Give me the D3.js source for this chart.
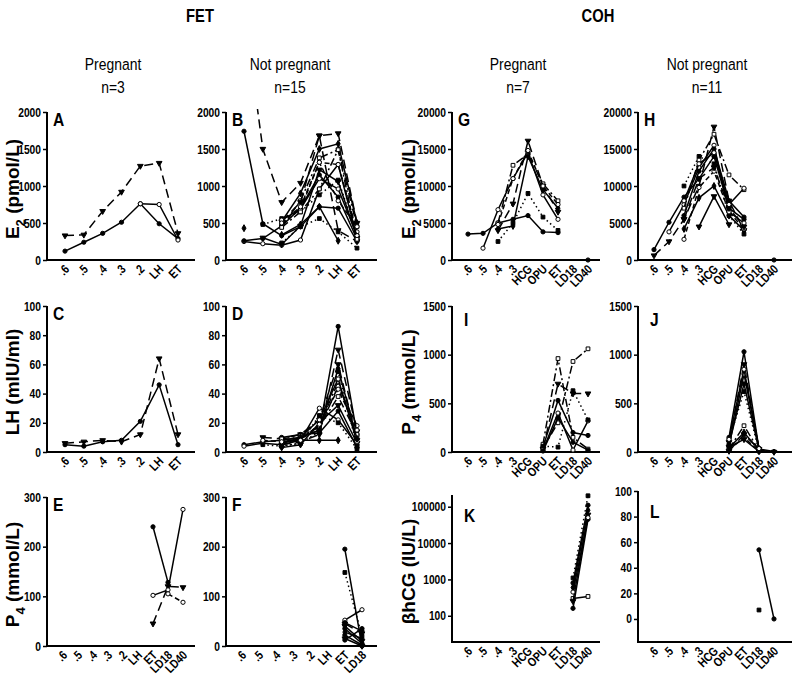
<!DOCTYPE html>
<html>
<head>
<meta charset="utf-8">
<script src="https://cdn.jsdelivr.net/npm/d3@7"></script>
<style>
  body { margin: 0; background: #fff; }
  svg { display: block; }
  text { font-family: "Liberation Sans", Arial, sans-serif; fill: #000; }
</style>
</head>
<body>
<svg id="chart" width="800" height="683"></svg>
<script>
const _ = null;
const NARROW = 0.82; // squeeze Liberation Sans to look like Arial Narrow

// categories (x axis)
const catsFET = [".6", ".5", ".4", ".3", ".2", "LH", "ET"];
const catsFET9 = [".6", ".5", ".4", ".3", ".2", "LH", "ET", "LD18", "LD40"];
const catsFET8 = [".6", ".5", ".4", ".3", ".2", "LH", "ET", "LD18"];
const catsCOH = [".6", ".5", ".4", ".3", "HCG", "OPU", "ET", "LD18", "LD40"];

// A : E2, FET pregnant
const e2FetPreg = [
  [120, 240, 360, 510, 760, 490, 290],
  [330, 340, 660, 920, 1270, 1310, 360],
  [_, _, _, _, 760, 750, 270]
];
// B : E2, FET not pregnant
const e2FetNot = [
  [1740, 490, 330, 450, 720, 700, 250],
  [3400, 1500, 780, 1040, 1680, 1710, 500],
  [250, 220, 200, 270, 960, 1290, 300],
  [_, 480, 560, 650, 880, 1080, 330],
  [_, _, 450, 800, 1380, 1490, 450],
  [430, _, 520, 900, 1500, 1570, 500],
  [_, _, 480, 690, 1320, 1290, 380],
  [_, 300, 210, 460, 1220, 1060, 300],
  [260, 290, 460, 700, 1150, 850, 280],
  [_, _, 520, 780, 1680, 400, 250],
  [_, _, 540, 690, 1100, 960, 330],
  [_, _, 230, 450, 560, 380, 160],
  [_, _, 440, 650, 960, 1490, 280],
  [_, _, 340, 480, 720, 260, _],
  [_, _, 500, 720, 1320, 800, 450]
];
// C : LH, FET pregnant
const lhFetPreg = [
  [5, 4, 7, 8, 21, 46, 5],
  [6, 7, 8, 7, 12, 64, 12]
];
// D : LH, FET not pregnant
const lhFetNot = [
  [5, 7, 8, 10, 15, 86, 12],
  [_, 10, 9, 12, 22, 60, 8],
  [4, 6, 5, 8, 30, 22, 5],
  [_, 5, 4, 6, 14, 55, 4],
  [_, _, 6, 9, 18, 48, 10],
  [_, _, 7, 8, 8, 8, _],
  [_, 8, 7, 9, 16, 45, 18],
  [_, _, 3, 5, 20, 32, 6],
  [_, _, 10, 12, 13, 28, 3],
  [_, _, 5, 7, 12, 70, 14],
  [_, _, 8, 10, 22, 50, 7],
  [_, _, 4, 6, 25, 20, 2],
  [_, _, 9, 11, 17, 38, 12],
  [_, _, 6, 10, 15, 57, 9],
  [_, _, 7, 8, 19, 43, 15]
];
// E : P4, FET pregnant
const p4FetPreg = [
  [_, _, _, _, _, _, 240, 128, _],
  [_, _, _, _, _, _, 45, 120, 118],
  [_, _, _, _, _, _, 102, 113, 275],
  [_, _, _, _, _, _, _, 105, 88]
];
// F : P4, FET not pregnant
const p4FetNot = [
  [_, _, _, _, _, _, 195, 0],
  [_, _, _, _, _, _, 148, 20],
  [_, _, _, _, _, _, 52, 73],
  [_, _, _, _, _, _, 47, 30],
  [_, _, _, _, _, _, 40, 10],
  [_, _, _, _, _, _, 35, 5],
  [_, _, _, _, _, _, 28, 15],
  [_, _, _, _, _, _, 22, 2],
  [_, _, _, _, _, _, 15, 0],
  [_, _, _, _, _, _, 12, 35],
  [_, _, _, _, _, _, 45, 25]
];
// G : E2, COH pregnant
const e2CohPreg = [
  [3500, 3600, 5000, 5500, 6000, 3800, 3700, _, 0],
  [_, 1600, 6800, 11000, 14500, 8800, 5500, _, _],
  [_, _, 5000, 12800, 14300, 10300, 8000, _, _],
  [_, _, 2500, 5000, 9000, 5800, 4000, _, _],
  [_, _, 4000, 7600, 16100, 10000, 6500, _, _],
  [_, _, 4200, 4600, 14000, 9500, 7000, _, _],
  [_, _, 4800, 11000, 14800, 10000, 7500, _, _]
];
// H : E2, COH not pregnant
const e2CohNot = [
  [1400, 5100, 8500, 11000, 14000, 7000, 5500, _, 0],
  [600, 2500, 5500, 10000, 18000, 8000, 4000, _, _],
  [_, 3800, 7500, 12500, 15500, 6500, 5000, _, _],
  [_, _, 10000, 14000, 13000, 6000, 3500, _, _],
  [_, _, 7000, 13500, 17000, 11500, 9500, _, _],
  [_, _, 4200, 8400, 10000, 6000, 4000, _, _],
  [_, _, 2800, 9800, 12000, 6500, 4200, _, _],
  [_, _, _, 4500, 8600, 4800, _, _, _],
  [_, _, 6000, 12000, 15000, 8000, 5800, _, _],
  [_, _, 5500, 11000, 12500, 7000, 4500, _, _],
  [_, _, 8000, 13000, 14500, 7500, 9700, _, _]
];
// I : P4, COH pregnant
const p4CohPreg = [
  [_, _, _, _, _, 80, 960, 150, 30],
  [_, _, _, _, _, 30, 700, 600, 600],
  [_, _, _, _, _, 50, 530, 200, 170],
  [_, _, _, _, _, 20, 400, 20, 320],
  [_, _, _, _, _, 40, 300, 930, 1060],
  [_, _, _, _, _, 60, 50, 630, 330],
  [_, _, _, _, _, 10, 350, 100, 20]
];
// J : P4, COH not pregnant
const p4CohNot = [
  [_, _, _, _, _, 150, 1030, 30, 5],
  [_, _, _, _, _, 100, 900, 20, 0],
  [_, _, _, _, _, 60, 800, 40, _],
  [_, _, _, _, _, 120, 620, 10, _],
  [_, _, _, _, _, 30, 270, 15, _],
  [_, _, _, _, _, 40, 200, 20, _],
  [_, _, _, _, _, 20, 150, 10, _],
  [_, _, _, _, _, 50, 130, 5, _],
  [_, _, _, _, _, 80, 700, 25, _],
  [_, _, _, _, _, 10, 180, 30, _],
  [_, _, _, _, _, 130, 850, 35, _]
];
// K : beta-hCG, COH pregnant (log)
const hcgCohPreg = [
  [_, _, _, _, _, _, _, 1100, 200000],
  [_, _, _, _, _, _, _, 800, 110000],
  [_, _, _, _, _, _, _, 600, 80000],
  [_, _, _, _, _, _, _, 300, 340],
  [_, _, _, _, _, _, _, 250, 60000],
  [_, _, _, _, _, _, _, 160, 45000],
  [_, _, _, _, _, _, _, 450, 50000]
];
// L : beta-hCG, COH not pregnant
const hcgCohNot = [
  [_, _, _, _, _, _, _, 54, 0],
  [_, _, _, _, _, _, _, 7, _]
];

// y tick values
const ticksE2Fet = [0, 500, 1000, 1500, 2000];
const ticksE2Coh = [0, 5000, 10000, 15000, 20000];
const ticksLH = [0, 20, 40, 60, 80, 100];
const ticksP4Fet = [0, 100, 200, 300];
const ticksP4Coh = [0, 500, 1000, 1500];
const ticksHcg = [100, 1000, 10000, 100000];
const ticksL = [0, 20, 40, 60, 80, 100];

// line / marker styles
const styles = [
  { dash: null, sym: d3.symbolCircle, fill: true },
  { dash: "9,5", sym: d3.symbolTriangle, fill: true, flip: true },
  { dash: null, sym: d3.symbolCircle, fill: false },
  { dash: "1.5,3", sym: d3.symbolSquare, fill: true },
  { dash: "8,3,2,3", sym: d3.symbolSquare, fill: false },
  { dash: null, sym: d3.symbolDiamond, fill: true },
  { dash: "5,3", sym: d3.symbolCircle, fill: false },
  { dash: null, sym: d3.symbolTriangle, fill: true, flip: true },
  { dash: null, sym: d3.symbolSquare, fill: false }
];
const stylesE = [0, 1, 2, 6];
const stylesF = [0, 3, 2, 0, 7, 0, 5, 0, 7, 0, 1];
const stylesG = [0, 2, 4, 3, 1, 5, 6];
const stylesI = [4, 1, 0, 2, 4, 3, 0];
const stylesK = [3, 0, 5, 8, 7, 0, 2];
const stylesL = [0, 3];

const cols = [{ x0: 47, x1: 195 }, { x0: 226, x1: 377 }, { x0: 452, x1: 600 }, { x0: 638, x1: 792 }];
const rows = [{ top: 112, bot: 260 }, { top: 306, bot: 452 }, { top: 497, bot: 646 }];

const panels = [
  { letter: "A", col: 0, row: 0, cats: catsFET, data: e2FetPreg, domain: [0, 2000], ticks: ticksE2Fet, ylab: "E2" },
  { letter: "B", col: 1, row: 0, cats: catsFET, data: e2FetNot, domain: [0, 2000], ticks: ticksE2Fet },
  { letter: "G", col: 2, row: 0, cats: catsCOH, data: e2CohPreg, domain: [0, 20000], ticks: ticksE2Coh, ylab: "E2", styles: stylesG },
  { letter: "H", col: 3, row: 0, cats: catsCOH, data: e2CohNot, domain: [0, 20000], ticks: ticksE2Coh },
  { letter: "C", col: 0, row: 1, cats: catsFET, data: lhFetPreg, domain: [0, 100], ticks: ticksLH, ylab: "LH" },
  { letter: "D", col: 1, row: 1, cats: catsFET, data: lhFetNot, domain: [0, 100], ticks: ticksLH },
  { letter: "I", col: 2, row: 1, cats: catsCOH, data: p4CohPreg, domain: [0, 1500], ticks: ticksP4Coh, ylab: "P4", styles: stylesI },
  { letter: "J", col: 3, row: 1, cats: catsCOH, data: p4CohNot, domain: [0, 1500], ticks: ticksP4Coh },
  { letter: "E", col: 0, row: 2, cats: catsFET9, data: p4FetPreg, domain: [0, 300], ticks: ticksP4Fet, ylab: "P4", styles: stylesE },
  { letter: "F", col: 1, row: 2, cats: catsFET8, data: p4FetNot, domain: [0, 300], ticks: ticksP4Fet, styles: stylesF },
  { letter: "K", col: 2, row: 2, cats: catsCOH, data: hcgCohPreg, domain: [19, 210000], log: true, top: 495, bot: 642, ticks: ticksHcg, ylab: "hCG", styles: stylesK },
  { letter: "L", col: 3, row: 2, cats: catsCOH, data: hcgCohNot, domain: [-18, 100], top: 491, bot: 642, ticks: ticksL, styles: stylesL }
];

const svg = d3.select("#chart");

// headers
const heads = [
  { t: "FET", x: 200, y: 22, bold: true },
  { t: "COH", x: 598, y: 22, bold: true },
  { t: "Pregnant", x: 113, y: 70 }, { t: "n=3", x: 113, y: 93 },
  { t: "Not pregnant", x: 290, y: 70 }, { t: "n=15", x: 290, y: 93 },
  { t: "Pregnant", x: 518, y: 70 }, { t: "n=7", x: 518, y: 93 },
  { t: "Not pregnant", x: 707, y: 70 }, { t: "n=11", x: 707, y: 93 }
];
svg.selectAll("text.head").data(heads).join("text")
  .attr("class", "head")
  .attr("transform", d => `translate(${d.x},${d.y}) scale(${NARROW},1)`)
  .attr("text-anchor", "middle")
  .style("font-size", d => d.bold ? "18px" : "17px")
  .style("font-weight", d => d.bold ? "bold" : "normal")
  .text(d => d.t);

panels.forEach((p, pi) => {
  const c = cols[p.col], r = rows[p.row];
  const top = p.top != null ? p.top : r.top;
  const bot = p.bot != null ? p.bot : r.bot;
  const n = p.cats.length;
  const x = d3.scalePoint().domain(p.cats)
    .range(n === 7 ? [c.x0 + 18, c.x0 + 131] : [c.x0 + 16, c.x0 + 136]);
  const y = (p.log ? d3.scaleLog() : d3.scaleLinear()).domain(p.domain).range([bot, top]);

  const g = svg.append("g");

  // clip for lines and markers
  g.append("clipPath").attr("id", "clip" + pi)
    .append("rect").attr("x", c.x0).attr("y", top - 3).attr("width", c.x1 - c.x0).attr("height", bot - top + 8);

  // y axis
  const ya = g.append("g").attr("transform", `translate(${c.x0},0)`)
    .call(d3.axisLeft(y).tickValues(p.ticks).tickSize(4).tickFormat(d3.format("d")));
  ya.select(".domain").attr("d", `M0,${top}V${bot}`).attr("stroke-width", 2);
  ya.selectAll(".tick line").attr("stroke-width", 1.5);
  ya.selectAll(".tick text")
    .attr("x", -6 / NARROW)
    .attr("transform", `scale(${NARROW},1)`)
    .style("font-size", "12.5px").style("font-weight", "bold")
    .style("font-family", null);

  // x axis
  g.append("line").attr("x1", c.x0 - 1).attr("x2", c.x1).attr("y1", bot).attr("y2", bot)
    .attr("stroke", "#000").attr("stroke-width", 2);
  g.selectAll("text.xt").data(p.cats).join("text")
    .attr("class", "xt")
    .attr("transform", d => `translate(${x(d) + 5},${bot + 10}) rotate(-45) scale(${NARROW},1)`)
    .attr("text-anchor", "end")
    .style("font-size", "12.5px").style("font-weight", "bold")
    .text(d => d);

  // panel letter
  const lx = c.x0 + (p.row === 0 || p.letter === "C" || p.letter === "D" || p.letter === "E" || p.letter === "F" ? 6 : 12);
  const ly = top + (p.letter === "K" || p.letter === "L" ? 27 : (p.letter === "I" || p.letter === "J" ? 20 : 14));
  g.append("text")
    .attr("transform", `translate(${lx},${ly}) scale(${NARROW},1)`)
    .style("font-size", "19px").style("font-weight", "bold")
    .text(p.letter);

  // series
  const plot = g.append("g").attr("clip-path", `url(#clip${pi})`);
  p.data.forEach((vals, si) => {
    const st = styles[p.styles ? p.styles[si] : si % 8];
    const pts = vals.map((v, i) => ({ c: p.cats[i], v }));
    const line = d3.line().defined(d => d.v != null).x(d => x(d.c)).y(d => y(d.v));
    plot.append("path").datum(pts)
      .attr("d", line)
      .attr("fill", "none").attr("stroke", "#000").attr("stroke-width", 1.5)
      .attr("stroke-dasharray", st.dash);
    plot.selectAll(null).data(pts.filter(d => d.v != null)).join("path")
      .attr("transform", d => `translate(${x(d.c)},${y(d.v)})${st.flip ? " rotate(180)" : ""}`)
      .attr("d", d3.symbol().type(st.sym).size(14))
      .attr("fill", st.fill ? "#000" : "#fff")
      .attr("stroke", "#000").attr("stroke-width", 1);
  });

  // y axis label
  if (p.ylab) {
    const tx = p.col === 0 ? 14 : 410;
    const ty = (top + bot) / 2 + 3;
    const t = g.append("text")
      .attr("transform", `translate(${tx},${ty}) rotate(-90)`)
      .attr("text-anchor", "middle")
      .attr("dominant-baseline", "middle")
      .style("font-size", "19px").style("font-weight", "bold");
    if (p.ylab === "E2" || p.ylab === "P4") {
      t.append("tspan").text(p.ylab[0]);
      t.append("tspan").attr("baseline-shift", "sub").style("font-size", "13px").text(p.ylab[1]);
      t.append("tspan").text(p.ylab === "E2" ? " (pmol/L)" : " (mmol/L)");
    } else if (p.ylab === "LH") {
      t.text("LH (mIU/ml)");
    } else {
      t.text("\u03b2hCG (IU/L)");
    }
  }
});
</script>
</body>
</html>
